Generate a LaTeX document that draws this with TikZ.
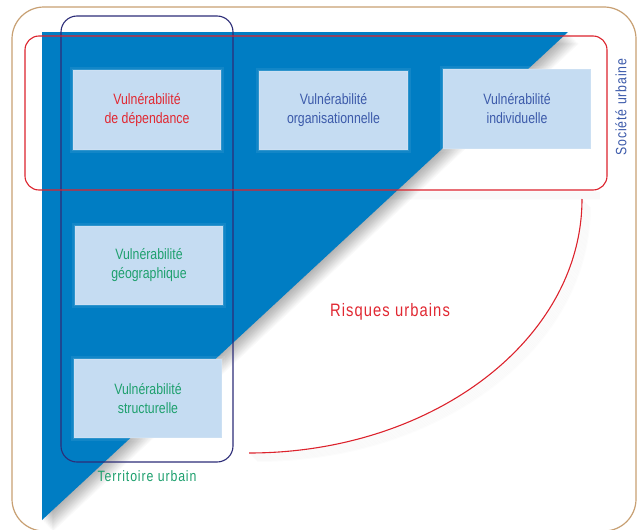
\documentclass[tikz,border=0pt]{standalone}
\usepackage{fontspec}
\setmainfont[FakeStretch=0.82]{Liberation Sans}
\newfontfamily\spaced[FakeStretch=0.82,LetterSpace=6]{Liberation Sans}
\definecolor{tri}{RGB}{0,125,195}
\definecolor{boxblue}{RGB}{197,220,242}
\definecolor{redline}{RGB}{220,35,45}
\definecolor{navy}{RGB}{45,45,120}
\definecolor{tanc}{RGB}{200,160,115}
\definecolor{greent}{RGB}{30,160,110}
\definecolor{bluet}{RGB}{60,90,170}
\definecolor{redt}{RGB}{225,40,50}
\tikzset{
  vbox/.style={fill=boxblue, minimum width=148, minimum height=80, inner sep=0pt,
    align=center, font=\fontsize{15}{19}\selectfont,
    preaction={draw=white, line width=6, opacity=0.07},
    postaction={draw=white, line width=1.5, opacity=0.12}},
  frame/.style={line width=1.1}
}
\begin{document}
\begin{tikzpicture}[x=1pt,y=-1pt]
\useasboundingbox (0,0) rectangle (640,530);
\fill[white] (0,0) rectangle (640,530);
\begin{scope}
\clip (0,0) rectangle (640,530);
\draw[tanc, line width=1.2, rounded corners=32] (12,7) rectangle (636,531);
% triangle shadow
\foreach \i in {1,...,16}{
  \fill[black, opacity=0.018, shift={(\i*0.68,\i*0.733)}] (42,32) -- (568,32) -- (42,520) -- cycle;
}
% shadows of red box and arc
\foreach \i in {1,...,8}{
  \draw[black, opacity=0.012, line width=2] (250,191+\i) -- (600,191+\i);
  \draw[black, opacity=0.012, line width=2, shift={(\i,\i)}] (582,199) arc[start angle=0, end angle=90, x radius=333, y radius=254];
}
\end{scope}
% blue triangle
\fill[tri] (42,32) -- (568,32) -- (42,520) -- cycle;
% boxes
\node[vbox, text=redt] (dep) at (147,110) {Vulnérabilité\\de dépendance};
\node[vbox, text=bluet, minimum width=149, minimum height=79] (org) at (333.5,110.5) {Vulnérabilité\\organisationnelle};
\node[vbox, text=bluet] (ind) at (517,109) {Vulnérabilité\\individuelle};
\node[vbox, text=greent, minimum height=79] (geo) at (149,265.5) {Vulnérabilité\\géographique};
\node[vbox, text=greent, minimum height=79] (str) at (148,398.5) {Vulnérabilité\\structurelle};
% territoire urbain frame
\draw[navy, frame, rounded corners=16] (61,16) rectangle (233,462);
% societe urbaine frame
\draw[redline, frame, rounded corners=14] (25,36) rectangle (607,190);
% risques urbains arc
\coordinate (a1) at (582,199);
\draw[redline, line width=1.1] (a1) arc[start angle=0, end angle=90, x radius=333, y radius=254];
% labels
\node[text=redt, font=\spaced\fontsize{18}{20}\selectfont] (risk) at (390,312) {Risques urbains};
\node[text=greent, font=\spaced\fontsize{15}{18}\selectfont] (terr) at (147,476) {Territoire urbain};
\node[text=bluet, rotate=90, font=\spaced\fontsize{15}{18}\selectfont] (soc) at (621,107) {Société urbaine};
\end{tikzpicture}
\end{document}
